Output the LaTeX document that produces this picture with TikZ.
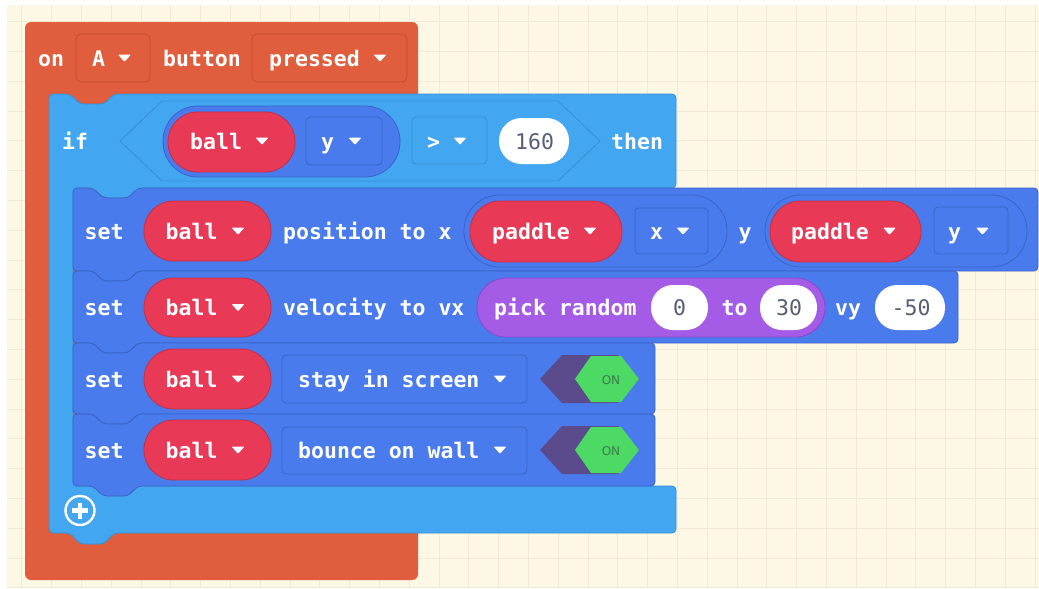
\documentclass[tikz,border=0pt]{standalone}
\usepackage{fontspec}
\setmonofont{DejaVu Sans Mono}
\newfontfamily\onfont{DejaVu Sans}
\definecolor{cream}{HTML}{FDF7E6}
\definecolor{gridc}{HTML}{F2EAD4}
\definecolor{orng}{HTML}{E05E3D}
\definecolor{orngdark}{HTML}{C44C2D}
\definecolor{lb}{HTML}{43A6F0}
\definecolor{lbdark}{HTML}{3690D6}
\definecolor{sb}{HTML}{4A7BEC}
\definecolor{sbdark}{HTML}{3A63C9}
\definecolor{rd}{HTML}{E83A56}
\definecolor{rddark}{HTML}{C62E47}
\definecolor{pu}{HTML}{A45CE7}
\definecolor{pudark}{HTML}{8A47CC}
\definecolor{numgrey}{HTML}{575E75}
\definecolor{togp}{HTML}{5B4A8C}
\definecolor{togg}{HTML}{4CD964}
\definecolor{ontext}{HTML}{3E7A4C}
\tikzset{
  lbl/.style={text=white, font=\ttfamily\bfseries\fontsize{21.5}{22}\selectfont, inner sep=0pt, anchor=base west},
  num/.style={text=numgrey, font=\ttfamily\fontsize{21.5}{22}\selectfont, inner sep=0pt, anchor=base west},
  ontxt/.style={text=ontext, font=\onfont\fontsize{12}{12}\selectfont, inner sep=0pt},
  gridline/.style={draw=gridc, line width=1pt},
  redpill/.style={fill=rd, draw=rddark, line width=0.8pt},
  sbpill/.style={fill=sb, draw=sbdark, line width=0.8pt},
  sbdd/.style={fill=sb, draw=sbdark, line width=0.8pt, rounded corners=4pt},
  lbdd/.style={fill=lb, draw=lbdark, line width=0.8pt, rounded corners=4pt},
  ordd/.style={fill=orng, draw=orngdark, line width=0.8pt, rounded corners=5pt},
  whitepill/.style={fill=white},
  ddarrow/.pic={\fill[white, rounded corners=1pt] (-6.5,-3.5) -- (6.5,-3.5) -- (0,3.8) -- cycle;}
}
\newcommand\sblock[3]{\filldraw[fill=sb, draw=sbdark, line width=0.8pt, rounded corners=4pt] (73,#1) -- (93,#1) -- (103,#1+10) -- (128,#1+10) -- (138,#1) -- (#3,#1) -- (#3,#2) -- (138,#2) -- (128,#2+10) -- (103,#2+10) -- (93,#2) -- (73,#2) -- cycle;}
\newcommand\toggleon[2]{%
  \fill[togp] (540,#1) -- (562,#1-24) -- (618,#1-24) -- (639,#1) -- (618,#1+24) -- (562,#1+24) -- cycle;
  \fill[togg] (575,#1) -- (591,#1-23) -- (621,#1-23) -- (639,#1) -- (621,#1+23) -- (591,#1+23) -- cycle;
  \node[ontxt] (#2) at (611,#1+1) {ON};}
\begin{document}
\begin{tikzpicture}[x=1pt,y=-1pt]
\useasboundingbox (0,0) rectangle (1039,589);
\fill[white] (0,0) rectangle (1039,589);
\fill[cream] (7,5) rectangle (1039,587);
\begin{scope}
\clip (7,5) rectangle (1039,587);
\foreach \i in {0,...,34} \draw[gridline] ({21.8+29.8*\i},5) -- ({21.8+29.8*\i},587);
\foreach \j in {0,...,19} \draw[gridline] (7,{21.7+29.8*\j}) -- (1039,{21.7+29.8*\j});
\end{scope}

% orange event block
\fill[orng, rounded corners=6pt] (25,22) rectangle (418,580);
\filldraw[ordd] (76,34) rectangle (150,82);
\filldraw[ordd] (252,34) rectangle (407,82);
\node[lbl] (on) at (38,66) {on};
\node[lbl] (akey) at (92,66) {A};
\pic at (124.5,58) {ddarrow};
\node[lbl] (button) at (163,66) {button};
\node[lbl] (pressed) at (269,66) {pressed};
\pic at (380,58) {ddarrow};

% if block
\filldraw[fill=lb, draw=lbdark, line width=0.8pt, rounded corners=4pt]
  (49,94) -- (70,94) -- (80,104) -- (104,104) -- (114,94) -- (676,94) -- (676,188)
  -- (139,188) -- (129,198) -- (104,198) -- (93,188) -- (73,188) -- (73,486)
  -- (676,486) -- (676,533) -- (114,533) -- (104,544) -- (80,544) -- (70,533)
  -- (49,533) -- cycle;
\filldraw[fill=lb, draw=lbdark, line width=0.8pt]
  (120,141) -- (162,101) -- (558,101) -- (600,141) -- (558,181) -- (162,181) -- cycle;
\filldraw[sbpill, rounded corners=35pt] (163,106) rectangle (400,177);
\filldraw[redpill, rounded corners=29.5pt] (168,112) rectangle (295,172);
\filldraw[sbdd] (306,117) rectangle (382,165);
\filldraw[lbdd] (412,117) rectangle (487,164);
\fill[whitepill, rounded corners=22.5pt] (499,118) rectangle (569,164);
\node[lbl] (iftxt) at (62,149) {if};
\node[lbl] (ball0) at (190,149) {ball};
\pic at (262,141) {ddarrow};
\node[lbl] (y0) at (321,149) {y};
\pic at (355,141) {ddarrow};
\node[lbl] (gt) at (427,149) {>};
\pic at (460,141) {ddarrow};
\node[num] (n160) at (515,149) {160};
\node[lbl] (then) at (611,149) {then};

% plus icon
\draw[white, line width=2.4pt] (80,510.5) circle (14.5);
\fill[white] (72,508.3) rectangle (88,512.7);
\fill[white] (77.8,502.5) rectangle (82.2,518.5);

% statement blocks
\sblock{188}{271}{1038}
\sblock{271}{343}{958}
\sblock{343}{414}{655}
\sblock{414}{486}{655}

% block 1
\node[lbl] (set1) at (84.5,239) {set};
\filldraw[redpill, rounded corners=29.5pt] (144,201) rectangle (271,261);
\node[lbl] (ball1) at (165.5,239) {ball};
\pic at (238,231) {ddarrow};
\node[lbl] (pos) at (283,239) {position to x};
\filldraw[sbpill, rounded corners=35.5pt] (464,195) rectangle (727,267);
\filldraw[redpill, rounded corners=30pt] (470,201) rectangle (622,262);
\node[lbl] (pad1) at (492,239) {paddle};
\pic at (590,231) {ddarrow};
\filldraw[sbdd] (635,208) rectangle (708,254);
\node[lbl] (x1) at (650,239) {x};
\pic at (683,231) {ddarrow};
\node[lbl] (ytxt) at (738.5,239) {y};
\filldraw[sbpill, rounded corners=35.5pt] (765,195) rectangle (1027,267);
\filldraw[redpill, rounded corners=30pt] (770,201) rectangle (921,262);
\node[lbl] (pad2) at (791,239) {paddle};
\pic at (889.5,231) {ddarrow};
\filldraw[sbdd] (934,207) rectangle (1008,254);
\node[lbl] (y2) at (948,239) {y};
\pic at (982.5,231) {ddarrow};

% block 2
\node[lbl] (set2) at (84.5,315.5) {set};
\filldraw[redpill, rounded corners=29pt] (144,278) rectangle (271,337);
\node[lbl] (ball2) at (165.5,315.5) {ball};
\pic at (238,307.5) {ddarrow};
\node[lbl] (vel) at (283,315.5) {velocity to vx};
\filldraw[fill=pu, draw=pudark, line width=0.8pt, rounded corners=29pt] (477,278) rectangle (825,337);
\node[lbl] (pick) at (494,315.5) {pick random};
\fill[whitepill, rounded corners=22pt] (651,285) rectangle (708,330);
\node[num] (n0) at (673,315.5) {0};
\node[lbl] (to) at (721.5,315.5) {to};
\fill[whitepill, rounded corners=22pt] (760,285) rectangle (817,330);
\node[num] (n30) at (776,315.5) {30};
\node[lbl] (vy) at (835,315.5) {vy};
\fill[whitepill, rounded corners=22pt] (875,285) rectangle (945,330);
\node[num] (n50) at (891.5,315.5) {-50};

% block 3
\node[lbl] (set3) at (84.5,387) {set};
\filldraw[redpill, rounded corners=29.5pt] (144,349) rectangle (271,409);
\node[lbl] (ball3) at (165.5,387) {ball};
\pic at (238,379) {ddarrow};
\filldraw[sbdd] (282,355) rectangle (527,403);
\node[lbl] (stay) at (298,387) {stay in screen};
\pic at (500,379) {ddarrow};
\toggleon{379}{on3}

% block 4
\node[lbl] (set4) at (84.5,458) {set};
\filldraw[redpill, rounded corners=29.5pt] (144,420) rectangle (271,480);
\node[lbl] (ball4) at (165.5,458) {ball};
\pic at (238,450) {ddarrow};
\filldraw[sbdd] (282,427) rectangle (527,474);
\node[lbl] (bounce) at (298,458) {bounce on wall};
\pic at (500,450) {ddarrow};
\toggleon{450}{on4}
\end{tikzpicture}
\end{document}
